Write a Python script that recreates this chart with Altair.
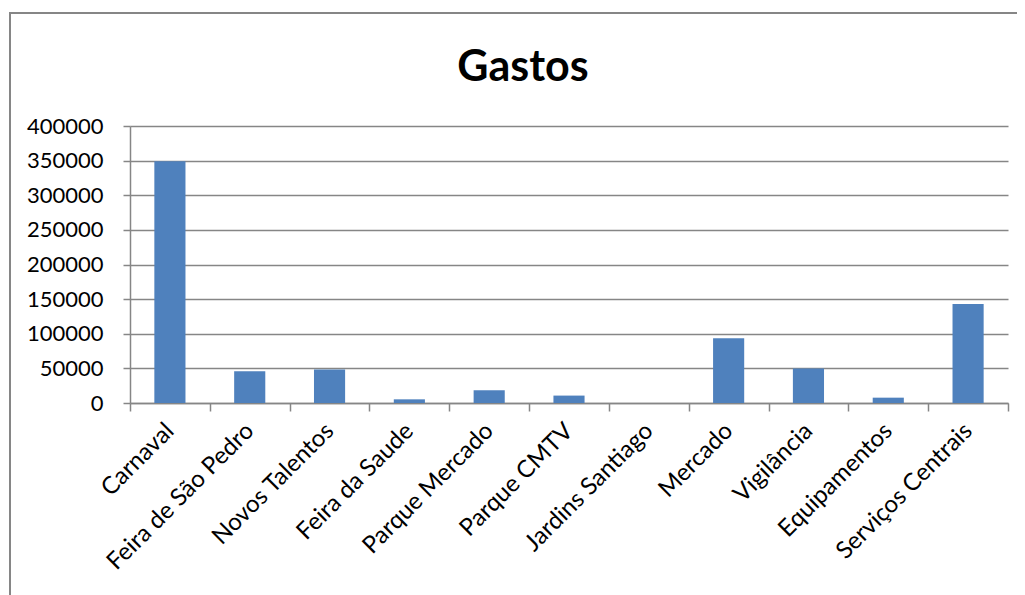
import altair as alt
import pandas as pd

categories = ["Carnaval", "Feira de São Pedro", "Novos Talentos", "Feira da Saude",
              "Parque Mercado", "Parque CMTV", "Jardins Santiago", "Mercado",
              "Vigilância", "Equipamentos", "Serviços Centrais"]
values = [349000, 46000, 48300, 5300, 18400, 10700, 0, 93500, 49700, 7700, 143100]
y_ticks = [0, 50000, 100000, 150000, 200000, 250000, 300000, 350000, 400000]
chart_title = "Gastos"

df = pd.DataFrame({"cat": categories, "val": values})

W, H = 878, 277
FONT = "Lato"

bars = alt.Chart(df).mark_bar(color="#4F81BD", width=alt.RelativeBandSize(0.39)).encode(
    x=alt.X("cat:N", sort=categories, title=None,
            scale=alt.Scale(paddingInner=0, paddingOuter=0),
            axis=alt.Axis(labelAngle=-45, labelAlign="right", labelBaseline="middle",
                          labelFont=FONT, labelFontSize=24, labelColor="#000000",
                          labelPadding=16, labelLimit=500, tickBand="extent", tickSize=8,
                          tickColor="#868686", domainColor="#868686", domainWidth=1.5,
                          tickWidth=1.5, grid=False, labelOverlap=False)),
    y=alt.Y("val:Q", title=None,
            scale=alt.Scale(domain=[0, 400000], nice=False),
            axis=alt.Axis(values=y_ticks, labelFont=FONT, labelFontSize=22,
                          labelColor="#000000", tickSize=7, labelPadding=20,
                          tickColor="#868686", domainColor="#868686", domainWidth=1.5,
                          tickWidth=1.5, gridColor="#868686", gridWidth=1.5,
                          format="d")),
)

border = alt.Chart(pd.DataFrame({"v": [0]})).mark_rect(
    fill=None, stroke="#868686", strokeWidth=2, clip=False
).encode(
    x=alt.value(-120), x2=alt.value(W + 200),
    y=alt.value(-113), y2=alt.value(H + 300),
)

title = alt.Chart(pd.DataFrame({"t": [chart_title]})).mark_text(
    font=FONT, fontSize=43, fontWeight="bold", color="#000000",
    align="center", baseline="middle", clip=False
).encode(
    text="t:N", x=alt.value(393), y=alt.value(-58),
)

chart = alt.layer(border, bars, title).properties(
    width=W, height=H,
    padding={"left": 122, "top": 118, "right": 9, "bottom": 192},
    autosize=alt.AutoSizeParams(type="none"),
).configure_view(stroke=None)

chart.save("out.html", embed_options={"renderer": "svg", "actions": False})
